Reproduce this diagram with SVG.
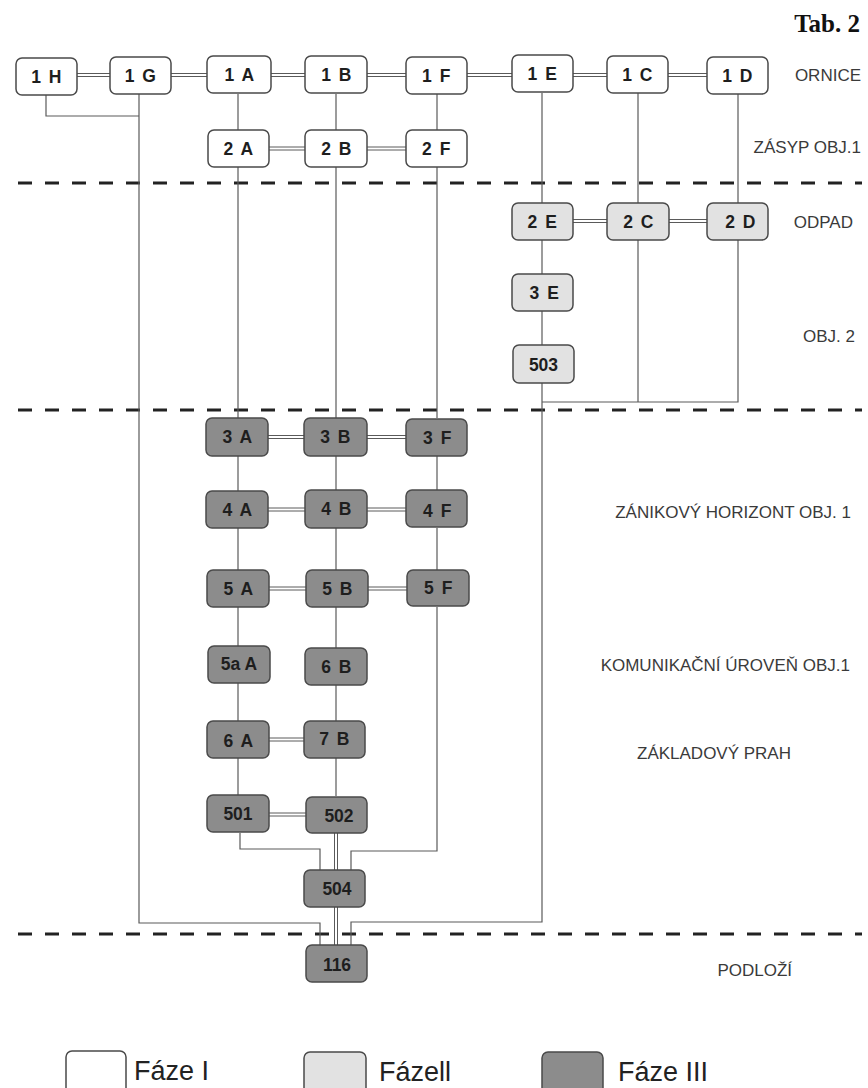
<svg xmlns="http://www.w3.org/2000/svg" width="868" height="1088" viewBox="0 0 868 1088">
<style>
.n rect{stroke:#4a4a4a;stroke-width:1.5}
.p1 rect{fill:#ffffff}
.p2 rect{fill:#e2e2e2}
.p3 rect{fill:#8c8c8c}
.n text{font-family:"Liberation Sans",Arial,sans-serif;font-weight:bold;font-size:17.5px;fill:#1e1e1e;text-anchor:middle;letter-spacing:1.5px}
.n text.num{letter-spacing:0}
.s{fill:none;stroke:#5a5a5a;stroke-width:1.2}
.d{fill:none;stroke:#5a5a5a;stroke-width:1}
.dash{fill:none;stroke:#222;stroke-width:3;stroke-dasharray:14 13}
.lab{font-family:"Liberation Sans",Arial,sans-serif;font-size:17px;fill:#3a3a3a;text-anchor:end}
.leg{font-family:"Liberation Sans",Arial,sans-serif;font-size:27px;fill:#222}
</style>
<rect x="0" y="0" width="868" height="1088" fill="#ffffff"/>
<text x="860" y="32" font-family="Liberation Serif,Times New Roman,serif" font-weight="bold" font-size="25" fill="#111" text-anchor="end">Tab. 2</text>

<g id="dividers">
<line class="dash" x1="18" y1="183" x2="862" y2="183"/>
<line class="dash" x1="18" y1="410" x2="862" y2="410"/>
<line class="dash" x1="18" y1="934" x2="862" y2="934"/>
</g>

<g id="connectors">
<polyline class="s" points="46,95 46,116 139,116"/>
<polyline class="s" points="139,94 139,923 320,923 320,945"/>
<line class="s" x1="238" y1="94" x2="238" y2="130"/>
<line class="s" x1="238" y1="167" x2="238" y2="418"/>
<line class="s" x1="238" y1="456" x2="238" y2="491"/>
<line class="s" x1="238" y1="528" x2="238" y2="570"/>
<line class="s" x1="238" y1="607" x2="238" y2="646"/>
<line class="s" x1="238" y1="683" x2="238" y2="721"/>
<line class="s" x1="238" y1="758" x2="238" y2="796"/>
<polyline class="s" points="240,833 240,849 320,849 320,870"/>
<line class="s" x1="336" y1="94" x2="336" y2="130"/>
<line class="s" x1="336" y1="167" x2="336" y2="418"/>
<line class="s" x1="336" y1="456" x2="336" y2="491"/>
<line class="s" x1="336" y1="528" x2="336" y2="570"/>
<line class="s" x1="336" y1="607" x2="336" y2="648"/>
<line class="s" x1="336" y1="685" x2="336" y2="721"/>
<line class="s" x1="336" y1="758" x2="336" y2="796"/>
<line class="d" x1="334.5" y1="833" x2="334.5" y2="870"/>
<line class="d" x1="337.5" y1="833" x2="337.5" y2="870"/>
<line class="d" x1="334.5" y1="907" x2="334.5" y2="945"/>
<line class="d" x1="337.5" y1="907" x2="337.5" y2="945"/>
<line class="s" x1="437" y1="94" x2="437" y2="130"/>
<line class="s" x1="437" y1="167" x2="437" y2="418"/>
<line class="s" x1="437" y1="456" x2="437" y2="491"/>
<line class="s" x1="437" y1="528" x2="437" y2="570"/>
<polyline class="s" points="437,607 437,851 351,851 351,870"/>
<line class="s" x1="542" y1="93" x2="542" y2="203"/>
<line class="s" x1="542" y1="240" x2="542" y2="274"/>
<line class="s" x1="542" y1="311" x2="542" y2="345"/>
<polyline class="s" points="542,383 542,922 351,922 351,945"/>
<line class="s" x1="638" y1="93" x2="638" y2="203"/>
<line class="s" x1="638" y1="240" x2="638" y2="402"/>
<line class="s" x1="738" y1="94" x2="738" y2="203"/>
<polyline class="s" points="738,240 738,402 542,402"/>
<g class="dbl">
<path class="d" d="M77,73.5H110M77,76.5H110"/>
<path class="d" d="M171,73.5H207M171,76.5H207"/>
<path class="d" d="M271,73.5H305M271,76.5H305"/>
<path class="d" d="M367,73.5H406M367,76.5H406"/>
<path class="d" d="M467,73.5H512M467,76.5H512"/>
<path class="d" d="M573,73.5H607M573,76.5H607"/>
<path class="d" d="M668,73.5H707M668,76.5H707"/>
<path class="d" d="M269,147H305M269,150H305"/>
<path class="d" d="M367,147H406M367,150H406"/>
<path class="d" d="M573,219.5H607M573,222.5H607"/>
<path class="d" d="M669,219.5H707M669,222.5H707"/>
<path class="d" d="M268,435.5H304M268,438.5H304"/>
<path class="d" d="M367,435.5H406M367,438.5H406"/>
<path class="d" d="M268,508H305M268,511H305"/>
<path class="d" d="M367,508H406M367,511H406"/>
<path class="d" d="M269,587H306M269,590H306"/>
<path class="d" d="M368,587H407M368,590H407"/>
<path class="d" d="M269,738H304M269,741H304"/>
<path class="d" d="M269,813H306M269,816H306"/>
</g>
</g>

<g id="n1H" class="n p1"><rect x="16" y="58" width="61" height="37" rx="6"/><text x="47" y="83">1 H</text></g>
<g id="n1G" class="n p1"><rect x="110" y="57" width="61" height="37" rx="6"/><text x="141" y="82">1 G</text></g>
<g id="n1A" class="n p1"><rect x="207" y="56" width="64" height="37" rx="6"/><text x="240" y="81">1 A</text></g>
<g id="n1B" class="n p1"><rect x="305" y="56" width="62" height="37" rx="6"/><text x="337" y="81">1 B</text></g>
<g id="n1F" class="n p1"><rect x="406" y="57" width="61" height="37" rx="6"/><text x="437" y="82">1 F</text></g>
<g id="n1E" class="n p1"><rect x="512" y="55" width="61" height="37" rx="6"/><text x="543" y="80">1 E</text></g>
<g id="n1C" class="n p1"><rect x="607" y="56" width="61" height="37" rx="6"/><text x="638" y="81">1 C</text></g>
<g id="n1D" class="n p1"><rect x="707" y="57" width="61" height="37" rx="6"/><text x="738" y="82">1 D</text></g>

<g id="n2A" class="n p1"><rect x="208" y="130" width="61" height="37" rx="6"/><text x="239" y="155">2 A</text></g>
<g id="n2B" class="n p1"><rect x="305" y="130" width="62" height="37" rx="6"/><text x="337" y="155">2 B</text></g>
<g id="n2F" class="n p1"><rect x="406" y="130" width="61" height="37" rx="6"/><text x="437" y="155">2 F</text></g>

<g id="n2E" class="n p2"><rect x="512" y="203" width="61" height="37" rx="6"/><text x="543" y="228">2 E</text></g>
<g id="n2C" class="n p2"><rect x="607" y="203" width="62" height="37" rx="6"/><text x="639" y="228">2 C</text></g>
<g id="n2D" class="n p2"><rect x="707" y="203" width="61" height="37" rx="6"/><text x="741" y="228">2 D</text></g>
<g id="n3E" class="n p2"><rect x="512" y="274" width="61" height="37" rx="6"/><text x="545" y="299">3 E</text></g>
<g id="n503" class="n p2"><rect x="513" y="345" width="61" height="38" rx="6"/><text class="num" x="543.5" y="371">503</text></g>

<g id="n3A" class="n p3"><rect x="206" y="418" width="62" height="38" rx="6"/><text x="238" y="443">3 A</text></g>
<g id="n3B" class="n p3"><rect x="304" y="418" width="63" height="38" rx="6"/><text x="336" y="443">3 B</text></g>
<g id="n3F" class="n p3"><rect x="406" y="419" width="61" height="37" rx="6"/><text x="438" y="444">3 F</text></g>
<g id="n4A" class="n p3"><rect x="206" y="491" width="62" height="37" rx="6"/><text x="238" y="516">4 A</text></g>
<g id="n4B" class="n p3"><rect x="305" y="490" width="62" height="38" rx="6"/><text x="337" y="515">4 B</text></g>
<g id="n4F" class="n p3"><rect x="406" y="490" width="61" height="37" rx="6"/><text x="438" y="517">4 F</text></g>
<g id="n5A" class="n p3"><rect x="207" y="570" width="62" height="37" rx="6"/><text x="239" y="595">5 A</text></g>
<g id="n5B" class="n p3"><rect x="306" y="570" width="62" height="37" rx="6"/><text x="338" y="595">5 B</text></g>
<g id="n5F" class="n p3"><rect x="407" y="570" width="62" height="36" rx="6"/><text x="439" y="594">5 F</text></g>
<g id="n5aA" class="n p3"><rect x="208" y="646" width="62" height="37" rx="6"/><text class="num" x="239" y="670">5a A</text></g>
<g id="n6B" class="n p3"><rect x="305" y="648" width="62" height="37" rx="6"/><text x="337" y="673">6 B</text></g>
<g id="n6A" class="n p3"><rect x="207" y="721" width="62" height="37" rx="6"/><text x="239" y="747">6 A</text></g>
<g id="n7B" class="n p3"><rect x="304" y="721" width="61" height="37" rx="6"/><text x="335" y="745">7 B</text></g>
<g id="n501" class="n p3"><rect x="207" y="795" width="62" height="37" rx="6"/><text class="num" x="238" y="820">501</text></g>
<g id="n502" class="n p3"><rect x="306" y="797" width="61" height="36" rx="6"/><text class="num" x="339" y="822">502</text></g>
<g id="n504" class="n p3"><rect x="304" y="870" width="61" height="37" rx="6"/><text class="num" x="337" y="895">504</text></g>
<g id="n116" class="n p3"><rect x="306" y="945" width="61" height="37" rx="6"/><text class="num" x="337" y="971">116</text></g>

<g id="labels">
<text class="lab" x="861" y="81">ORNICE</text>
<text class="lab" x="861" y="153">ZÁSYP OBJ.1</text>
<text class="lab" x="853" y="228">ODPAD</text>
<text class="lab" x="855" y="342">OBJ. 2</text>
<text class="lab" x="851" y="518">ZÁNIKOVÝ HORIZONT OBJ. 1</text>
<text class="lab" x="850" y="671">KOMUNIKAČNÍ ÚROVEŇ OBJ.1</text>
<text class="lab" x="791" y="759">ZÁKLADOVÝ PRAH</text>
<text class="lab" x="792" y="976">PODLOŽÍ</text>
</g>

<g id="legend">
<rect x="66" y="1051" width="60" height="44" rx="6" fill="#fff" stroke="#4a4a4a" stroke-width="1.5"/>
<text class="leg" x="134" y="1080">Fáze I</text>
<rect x="304" y="1052" width="62" height="44" rx="6" fill="#e2e2e2" stroke="#4a4a4a" stroke-width="1.5"/>
<text class="leg" x="379" y="1081">Fázell</text>
<rect x="542" y="1052" width="61" height="44" rx="6" fill="#8c8c8c" stroke="#4a4a4a" stroke-width="1.5"/>
<text class="leg" x="618" y="1081">Fáze III</text>
</g>
</svg>
